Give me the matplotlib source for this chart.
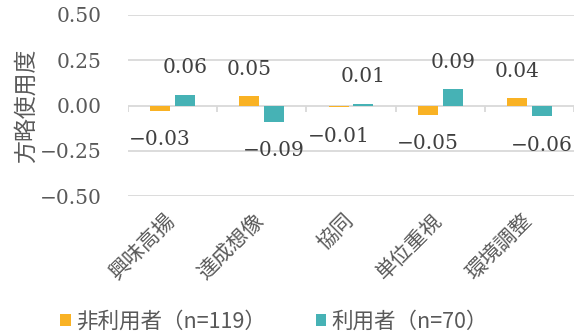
import matplotlib
matplotlib.use('Agg')
import matplotlib.pyplot as plt
import numpy as np

categories = ['興味高揚', '達成想像', '協同', '単位重視', '環境調整']
series_names = ['非利用者（n=119）', '利用者（n=70）']
non_users = [-0.03, 0.05, -0.01, -0.05, 0.04]
users = [0.06, -0.09, 0.01, 0.09, -0.06]
yticks = [-0.50, -0.25, 0.00, 0.25, 0.50]
ylabel = '方略使用度'

NUM_FONT = ['DejaVu Serif', 'Noto Sans CJK JP']
CJK_FONT = ['Noto Sans CJK JP', 'DejaVu Sans']
ORANGE = '#F9B224'
TEAL = '#46B2B5'
GRID = '#D9D9D9'
TXT = '#595959'
LBL = '#404040'


def fmt(v):
    return f'{v:.2f}'.replace('-', '\u2212')


fig = plt.figure(figsize=(5.79, 3.36), dpi=100)
ax = fig.add_axes([128 / 579, 1 - 196 / 336, (574 - 128) / 579, (196 - 15) / 336])

x = np.arange(len(categories))
w = 0.224
off = 0.14
ax.bar(x - off, non_users, w, color=ORANGE, label=series_names[0], zorder=3)
ax.bar(x + off, users, w, color=TEAL, label=series_names[1], zorder=3)

ax.set_xlim(-0.5, len(categories) - 0.5)
ax.set_ylim(-0.5, 0.5)

# grid and zero axis
for yv in yticks:
    if yv != 0:
        ax.axhline(yv, color=GRID, lw=1.3, zorder=1)
ax.axhline(0, color=GRID, lw=1.3, zorder=2)
bounds = np.arange(len(categories) + 1) - 0.5
ax.vlines(bounds, -0.034, 0, color=GRID, lw=1.3, zorder=2)

for s in ax.spines.values():
    s.set_visible(False)

ax.set_yticks(yticks)
ax.set_yticklabels([fmt(v) for v in yticks], family=NUM_FONT, fontsize=14.5, color=TXT)
ax.tick_params(axis='y', length=0, pad=19)

ax.set_xticks(x - 0.01)
ax.set_xticklabels(categories, family=CJK_FONT, fontsize=15, color=TXT,
                   rotation=45, ha='right', va='center', rotation_mode='anchor')
ax.tick_params(axis='x', length=0, pad=15)

# data labels
for xs, vals in ((x - off, non_users), (x + off, users)):
    for xi, v in zip(xs, vals):
        dy = 27 if v >= 0 else -29
        ax.annotate(fmt(v), xy=(xi, v), xytext=(0, dy), textcoords='offset pixels',
                    ha='center', va='center', family=NUM_FONT, fontsize=14.5, color=LBL)

fig.text(26 / 579, 1 - 105.5 / 336, ylabel, rotation=90, ha='center', va='center',
         family=CJK_FONT, fontsize=16.5, color=TXT)

leg = fig.legend(loc='center left', bbox_to_anchor=(60 / 579, 1 - 322 / 336), ncol=2,
                 frameon=False, borderpad=0, borderaxespad=0,
                 handlelength=0.5, handleheight=0.5, handletextpad=0.25,
                 columnspacing=2.3, prop={'family': CJK_FONT, 'size': 15.5})
for t in leg.get_texts():
    t.set_color(TXT)

fig.savefig('out.png', dpi=100)
